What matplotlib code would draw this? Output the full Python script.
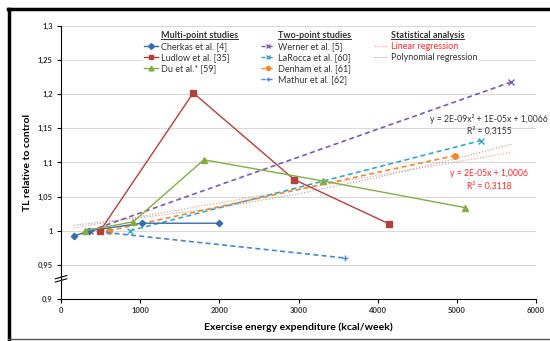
import matplotlib
matplotlib.use('Agg')
import matplotlib.pyplot as plt
from matplotlib.lines import Line2D
import numpy as np

plt.rcParams['font.family'] = ['Lato', 'DejaVu Sans']

# multi-point studies (kcal/week, TL relative to control)
cherkas_x = [160, 355, 1020, 2000]
cherkas_y = [0.992, 1.0, 1.011, 1.011]
ludlow_x = [495, 1670, 2945, 4145]
ludlow_y = [1.0, 1.202, 1.075, 1.010]
du_x = [300, 910, 1805, 3305, 5100]
du_y = [1.0, 1.013, 1.104, 1.073, 1.034]

# two-point studies
werner_x = [365, 5690]
werner_y = [1.0, 1.218]
larocca_x = [870, 5300]
larocca_y = [1.0, 1.132]
denham_x = [600, 4975]
denham_y = [1.0, 1.110]
mathur_x = [360, 3590]
mathur_y = [1.0, 0.960]

# regression lines
lin_x = [160, 5700]
lin_y = [1.004, 1.115]
poly_x = [160, 1000, 2000, 3000, 4000, 5000, 5700]
poly_y = [1.008, 1.019, 1.034, 1.054, 1.078, 1.106, 1.127]

y_ticks = [0.9, 0.95, 1.0, 1.05, 1.1, 1.15, 1.2, 1.25, 1.3]
y_ticklabels = ['0,9', '0,95', '1', '1,05', '1,1', '1,15', '1,2', '1,25', '1,3']
x_ticks = [0, 1000, 2000, 3000, 4000, 5000, 6000]

fig = plt.figure(figsize=(5.5, 3.41), dpi=100)
ax = fig.add_axes([0.111, 0.1232, 0.8635, 0.8006])

ax.plot(lin_x, lin_y, color='#ff8f8f', lw=0.8, ls=':', zorder=2)
ax.plot(poly_x, poly_y, color='#a0a0a0', lw=0.8, ls=':', zorder=2)

dash = (3, 2)
ax.plot(werner_x, werner_y, color='#7a5fa8', lw=1.2, dashes=dash, marker='x', ms=4, mew=1)
ax.plot(larocca_x, larocca_y, color='#3ba6c4', lw=1.2, dashes=dash, marker='x', ms=4, mew=1)
ax.plot(denham_x, denham_y, color='#f08a30', lw=1.2, dashes=dash, marker='o', ms=4)
ax.plot(mathur_x, mathur_y, color='#4a86cf', lw=1.2, dashes=dash, marker='+', ms=5, mew=1)

ax.plot(cherkas_x, cherkas_y, color='#3a6bb0', lw=1.0, marker='D', ms=3.2)
ax.plot(ludlow_x, ludlow_y, color='#b0413e', lw=1.0, marker='s', ms=4.2)
ax.plot(du_x, du_y, color='#84ac46', lw=1.0, marker='^', ms=4.2)

eq_kw = dict(fontsize=6.2, ha='center', va='center')
ax.text(5410, 1.164, 'y = 2E-09x² + 1E-05x + 1,0066', color='#333333', **eq_kw)
ax.text(5410, 1.1465, 'R² = 0,3155', color='#333333', **eq_kw)
ax.text(5410, 1.0835, 'y = 2E-05x + 1,0006', color='#ff2a2a', **eq_kw)
ax.text(5410, 1.066, 'R² = 0,3118', color='#ff2a2a', **eq_kw)

ax.set_xlim(0, 6000)
ax.set_ylim(0.9, 1.3)
ax.set_yticks(y_ticks)
ax.set_yticklabels(y_ticklabels)
ax.set_xticks(x_ticks)
ax.tick_params(labelsize=5.5, length=3, width=0.8, pad=3)
for lab in ax.get_xticklabels() + ax.get_yticklabels():
    lab.set_fontweight('bold')
    lab.set_color('#333333')
ax.yaxis.grid(True, color='#d9d9d9', lw=0.8)
ax.set_axisbelow(True)
for s in ['top', 'right']:
    ax.spines[s].set_visible(False)
ax.spines['left'].set_linewidth(0.8)
ax.spines['bottom'].set_linewidth(0.8)

ax.set_xlabel('Exercise energy expenditure (kcal/week)', fontsize=7.5, fontweight='bold', labelpad=6)
ax.set_ylabel('TL relative to control', fontsize=7.5, fontweight='bold', labelpad=4)

# axis break
for dy in [0.0, 0.012]:
    ax.plot([-0.012, 0.012], [0.062 + dy, 0.074 + dy], transform=ax.transAxes,
            color='black', lw=0.8, clip_on=False)

# legend with three headed columns
blank = Line2D([], [], color='none')
handles = [
    blank,
    Line2D([], [], color='#3a6bb0', lw=1.0, marker='D', ms=3),
    Line2D([], [], color='#b0413e', lw=1.0, marker='s', ms=3.5),
    Line2D([], [], color='#84ac46', lw=1.0, marker='^', ms=3.5),
    blank,
    blank,
    Line2D([], [], color='#7a5fa8', lw=1.0, dashes=dash, marker='x', ms=3),
    Line2D([], [], color='#3ba6c4', lw=1.0, dashes=dash, marker='x', ms=3),
    Line2D([], [], color='#f08a30', lw=1.0, dashes=dash, marker='o', ms=3),
    Line2D([], [], color='#4a86cf', lw=1.0, dashes=dash, marker='+', ms=3),
    blank,
    Line2D([], [], color='#ff8f8f', lw=0.8, ls=':'),
    Line2D([], [], color='#a0a0a0', lw=0.8, ls=':'),
    blank,
    blank,
]
labels = ['Multi-point studies', 'Cherkas et al. [4]', 'Ludlow et al. [35]', 'Du et al.* [59]', '',
          'Two-point studies', 'Werner et al. [5]', 'LaRocca et al. [60]', 'Denham et al. [61]', 'Mathur et al. [62]',
          'Statistical analysis', 'Linear regression', 'Polynomial regression', '', '']
leg = ax.legend(handles, labels, ncol=3, loc='upper left', bbox_to_anchor=(0.16, 1.005),
                fontsize=6.5, frameon=True, facecolor='white', edgecolor='none', framealpha=1,
                handlelength=1.6, handletextpad=0.3, columnspacing=2.5, labelspacing=0.22,
                borderpad=0.25, fancybox=False)
texts = leg.get_texts()
for i in [0, 5, 10]:
    texts[i].set_fontweight('bold')
for i, t in enumerate(texts):
    t.set_color('#ff2a2a' if i == 11 else '#333333')

fig.canvas.draw()
inv = fig.transFigure.inverted()
for i in [0, 5, 10]:
    bb = texts[i].get_window_extent()
    (x0, y0), (x1, _) = inv.transform([(bb.x0, bb.y0 + 1), (bb.x1, bb.y0 + 1)])
    fig.add_artist(Line2D([x0, x1], [y0, y0], transform=fig.transFigure, color='#333333', lw=0.7))

# outer frame
fig.add_artist(Line2D([8 / 550, 1.0], [1 - 9 / 341, 1 - 9 / 341], transform=fig.transFigure, color='black', lw=2.5))
fig.add_artist(Line2D([9 / 550, 9 / 550], [2 / 341, 1 - 9 / 341], transform=fig.transFigure, color='black', lw=2.5))
fig.add_artist(Line2D([8 / 550, 1.0], [2 / 341, 2 / 341], transform=fig.transFigure, color='#555555', lw=1))

fig.savefig('out.png', dpi=100)
